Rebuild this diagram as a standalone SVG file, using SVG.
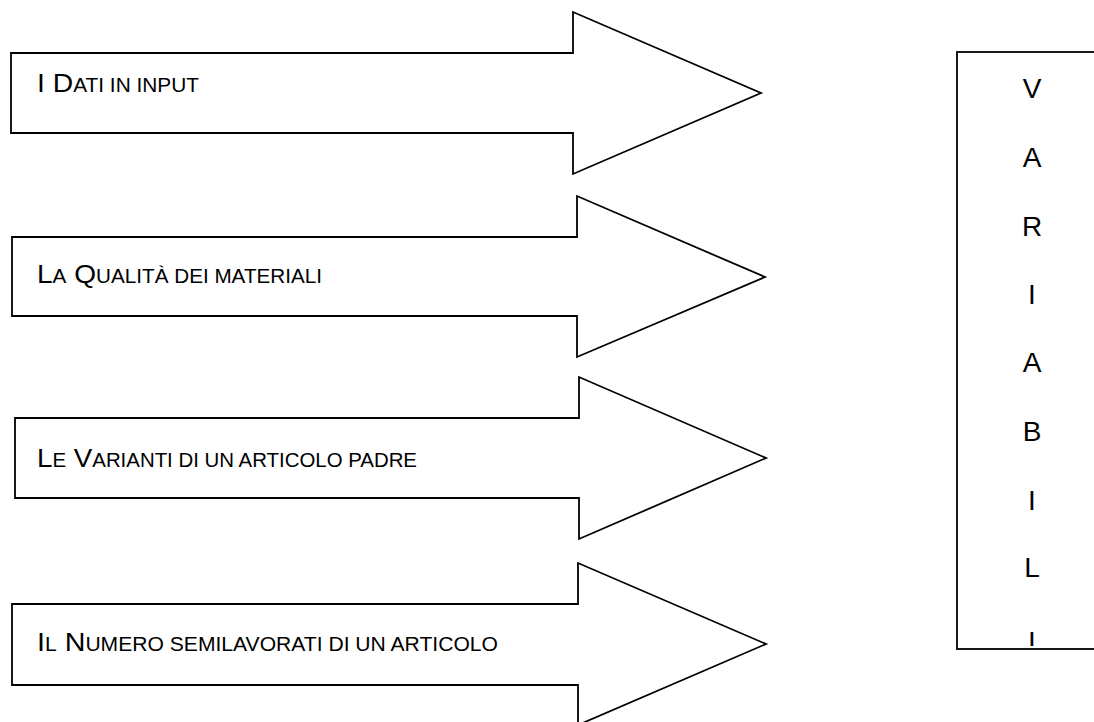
<svg xmlns="http://www.w3.org/2000/svg" width="1094" height="722" viewBox="0 0 1094 722">
<style>
.arrow{fill:#fff;stroke:#000;stroke-width:1.8;stroke-linejoin:miter}
.lbl{font-family:"Liberation Sans",Arial,sans-serif;fill:#000;font-size:26.5px}
.sc{font-size:19.5px}
.col{font-family:"Liberation Sans",Arial,sans-serif;fill:#000;font-size:28px;text-anchor:middle}
.box{fill:#fff;stroke:#000;stroke-width:1.8}
</style>
<defs>
<clipPath id="clipLast"><rect x="1000" y="632" width="60" height="17"/></clipPath>
</defs>
<rect width="1094" height="722" fill="#fff"/>
<g id="connectors"></g>
<g id="arrow1">
<path class="arrow" d="M11,53 H573 V12 L761,93 L573,174 V133 H11 Z"/>
<text class="lbl" x="37" y="92" textLength="162" lengthAdjust="spacingAndGlyphs">I D<tspan class="sc">ATI IN INPUT</tspan></text>
</g>
<g id="arrow2">
<path class="arrow" d="M12,237 H577 V196 L765,277 L577,357 V316 H12 Z"/>
<text class="lbl" x="37" y="283" textLength="285" lengthAdjust="spacingAndGlyphs">L<tspan class="sc">A</tspan> Q<tspan class="sc">UALITÀ DEI MATERIALI</tspan></text>
</g>
<g id="arrow3">
<path class="arrow" d="M15,418 H579 V377 L766,458 L579,539 V498 H15 Z"/>
<text class="lbl" x="37" y="467" textLength="380" lengthAdjust="spacingAndGlyphs">L<tspan class="sc">E</tspan> V<tspan class="sc">ARIANTI DI UN ARTICOLO PADRE</tspan></text>
</g>
<g id="arrow4">
<path class="arrow" d="M12,604 H578 V563 L766,644 L578,725 V685 H12 Z"/>
<text class="lbl" x="37" y="651" textLength="461" lengthAdjust="spacingAndGlyphs">I<tspan class="sc">L</tspan> N<tspan class="sc">UMERO SEMILAVORATI DI UN ARTICOLO</tspan></text>
</g>
<g id="variabili">
<rect class="box" x="957" y="52" width="150" height="597"/>
<text class="col" x="1032" y="98">V</text>
<text class="col" x="1032" y="167">A</text>
<text class="col" x="1032" y="236">R</text>
<text class="col" x="1032" y="304">I</text>
<text class="col" x="1032" y="372">A</text>
<text class="col" x="1032" y="441">B</text>
<text class="col" x="1032" y="510">I</text>
<text class="col" x="1032" y="577">L</text>
<text class="col" x="1032" y="646" clip-path="url(#clipLast)">I</text>
</g>
</svg>
